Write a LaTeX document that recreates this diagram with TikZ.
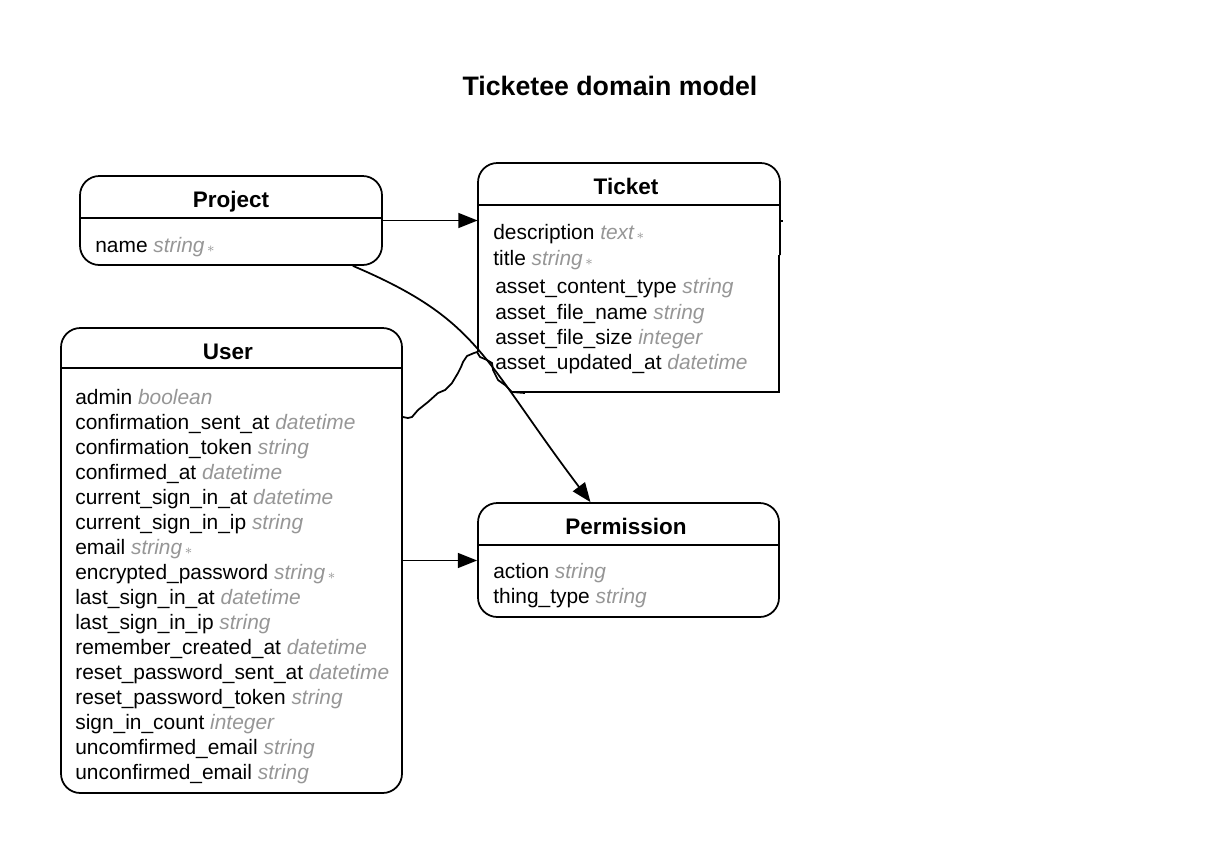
\documentclass[tikz,border=0pt]{standalone}
\usepackage{fontspec}
\setmainfont{Liberation Sans}
\usetikzlibrary{arrows.meta, positioning, fit, calc}

\definecolor{typegray}{RGB}{150,150,150}
\newcommand{\fld}[2]{#1 {\color{typegray}\itshape #2}}
\newcommand{\reqd}{\hspace{1.5pt}{\color{typegray}\footnotesize$\ast$}}

\tikzset{
  entity/.style={draw, line width=1pt, rounded corners=11pt, inner sep=0pt},
  head/.style={anchor=base, inner sep=0pt, font=\fontsize{12.8}{15}\selectfont\bfseries},
  row/.style={anchor=base west, inner sep=0pt, font=\fontsize{11.9}{14}\selectfont},
  link/.style={line width=1pt, -{Triangle[length=11pt,width=8.5pt]}},
}

\begin{document}
\begin{tikzpicture}[x=0.02cm, y=-0.02cm]
  \useasboundingbox (0,0) rectangle (1220,856);

  % Title
  \node[anchor=base, inner sep=0pt, font=\fontsize{15.2}{18}\selectfont\bfseries] (title) at (610,95) {Ticketee domain model};

  % Project
  \node[entity, fit={(80,176) (382,265)}] (project) {};
  \draw[line width=1pt] (project.west |- 0,218) -- (project.east |- 0,218);
  \node[head] (project-h) at (231,207) {Project};
  \node[row] (project-1) at (95,252) {\fld{name}{string}\reqd};

  % Ticket (hand-edited outline)
  \node[inner sep=0pt, fit={(478,163) (780,392)}] (ticket) {};
  \draw[line width=1pt, rounded corners=11pt] (478,352) -- (478,163) -- (780,163) -- (780,255);
  \draw[line width=1pt] (779,255) -- (779,392) -- (512,392);
  \draw[line width=1pt] (781,221) -- (783,221);
  \draw[line width=1pt] (ticket.west |- 0,205) -- (ticket.east |- 0,205);
  \draw[line width=1pt] (477,352) -- (480,357) -- (487,360) -- (492,363) -- (493,370)
    -- (498,380) -- (505,385) -- (512,392) -- (525,393);
  \draw[line width=1pt] (477,352) -- (474,353) -- (467,356) -- (463,362) -- (461,367)
    -- (458,373) -- (452,383) -- (445,390) -- (438,393) -- (428,402) -- (418,410)
    -- (412,417) -- (408,418) -- (403,417);
  \node[head] (ticket-h) at (626,194) {Ticket};
  \node[row] (ticket-1) at (493,239) {\fld{description}{text}\reqd};
  \node[row] (ticket-2) at (493,265) {\fld{title}{string}\reqd};
  \node[row] (ticket-3) at (495,293) {\fld{asset\_content\_type}{string}};
  \node[row] (ticket-4) at (495,319) {\fld{asset\_file\_name}{string}};
  \node[row] (ticket-5) at (495,344) {\fld{asset\_file\_size}{integer}};
  \node[row] (ticket-6) at (495,369) {\fld{asset\_updated\_at}{datetime}};

  % User
  \node[entity, fit={(61,328) (402,793)}] (user) {};
  \draw[line width=1pt] (user.west |- 0,368) -- (user.east |- 0,368);
  \node[head] (user-h) at (228,359) {User};
  \node[row] (user-1) at (75,404) {\fld{admin}{boolean}};
  \node[row] (user-2) at (75,429) {\fld{confirmation\_sent\_at}{datetime}};
  \node[row] (user-3) at (75,454) {\fld{confirmation\_token}{string}};
  \node[row] (user-4) at (75,479) {\fld{confirmed\_at}{datetime}};
  \node[row] (user-5) at (75,504) {\fld{current\_sign\_in\_at}{datetime}};
  \node[row] (user-6) at (75,529) {\fld{current\_sign\_in\_ip}{string}};
  \node[row] (user-7) at (75,554) {\fld{email}{string}\reqd};
  \node[row] (user-8) at (75,579) {\fld{encrypted\_password}{string}\reqd};
  \node[row] (user-9) at (75,604) {\fld{last\_sign\_in\_at}{datetime}};
  \node[row] (user-10) at (75,629) {\fld{last\_sign\_in\_ip}{string}};
  \node[row] (user-11) at (75,654) {\fld{remember\_created\_at}{datetime}};
  \node[row] (user-12) at (75,679) {\fld{reset\_password\_sent\_at}{datetime}};
  \node[row] (user-13) at (75,704) {\fld{reset\_password\_token}{string}};
  \node[row] (user-14) at (75,729) {\fld{sign\_in\_count}{integer}};
  \node[row] (user-15) at (75,754) {\fld{uncomfirmed\_email}{string}};
  \node[row] (user-16) at (75,779) {\fld{unconfirmed\_email}{string}};

  % Permission
  \node[entity, fit={(478,503) (779,617)}] (permission) {};
  \draw[line width=1pt] (permission.west |- 0,545) -- (permission.east |- 0,545);
  \node[head] (permission-h) at (626,534) {Permission};
  \node[row] (permission-1) at (493,578) {\fld{action}{string}};
  \node[row] (permission-2) at (493,603) {\fld{thing\_type}{string}};

  % Relations
  \draw[link] (project.east) -- (project.east -| ticket.west);
  \draw[link] ($(project.south east)+(-30,0)$) .. controls (480,320) and (481,357) .. ($(permission.north)+(-38,0)$);
  \draw[link] (user.east) -- (user.east -| permission.west);
\end{tikzpicture}
\end{document}
